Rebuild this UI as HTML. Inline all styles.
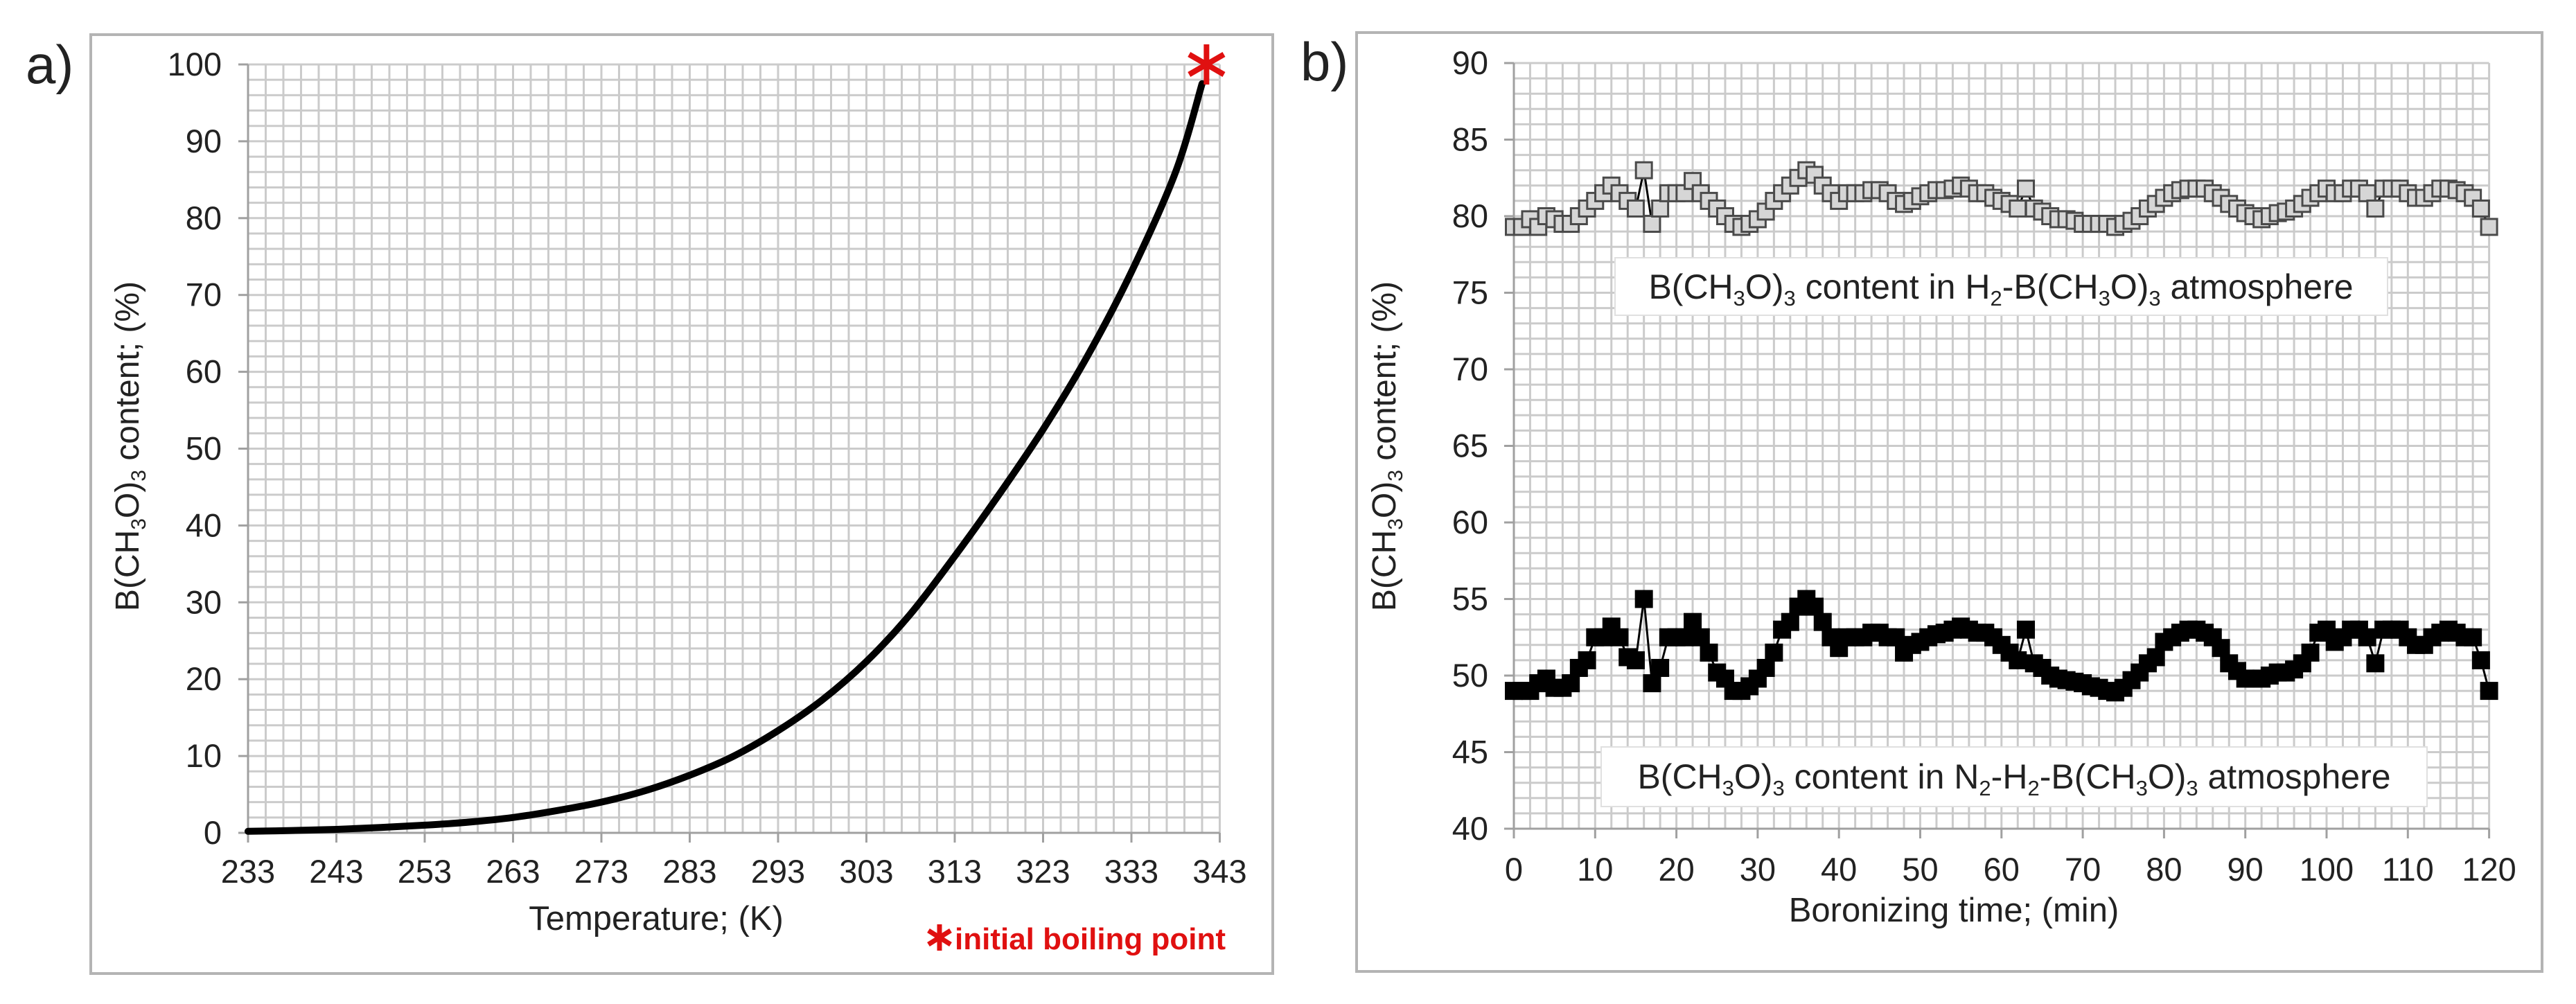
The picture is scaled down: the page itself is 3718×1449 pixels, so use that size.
<!DOCTYPE html>
<html><head><meta charset="utf-8"><style>
html,body{margin:0;padding:0;background:#fff;}
svg{display:block;font-family:"Liberation Sans Narrow","Liberation Sans",sans-serif;}
</style></head><body>
<svg id="fig" width="3718" height="1449" viewBox="0 0 3718 1449" xmlns="http://www.w3.org/2000/svg">
<rect x="0" y="0" width="3718" height="1449" fill="#fff"/>
<rect x="131" y="50" width="1706" height="1355" fill="#fff" stroke="#b4b4b4" stroke-width="4"/>
<rect x="1958" y="47" width="1711" height="1355" fill="#fff" stroke="#b4b4b4" stroke-width="4"/>
<text x="37" y="120" font-size="78" fill="#222">a)</text>
<text x="1877" y="116" font-size="78" fill="#222">b)</text>
<g id="ga"></g>
<g id="gb"></g>
<text x="200" y="644" font-size="48" fill="#222" text-anchor="middle" transform="rotate(-90 200 644)">B(CH<tspan font-size="30" dy="10">3</tspan><tspan dy="-10">O)</tspan><tspan font-size="30" dy="10">3</tspan><tspan dy="-10"> content; (%)</tspan></text>
<text x="947" y="1342" font-size="49" fill="#222" text-anchor="middle">Temperature; (K)</text>
<g>
<g stroke="#e01010" stroke-width="7">
<line x1="1356" y1="1334" x2="1356" y2="1372"/><line x1="1340" y1="1343" x2="1372" y2="1363"/><line x1="1340" y1="1363" x2="1372" y2="1343"/></g>
<text x="1378" y="1370" font-size="44" font-weight="bold" fill="#e01010">initial boiling point</text>
</g>
<text x="2014" y="644" font-size="48" fill="#222" text-anchor="middle" transform="rotate(-90 2014 644)">B(CH<tspan font-size="30" dy="10">3</tspan><tspan dy="-10">O)</tspan><tspan font-size="30" dy="10">3</tspan><tspan dy="-10"> content; (%)</tspan></text>
<text x="2820" y="1330" font-size="49" fill="#222" text-anchor="middle">Boronizing time; (min)</text>
</svg>
<script>
const tempK=[233,238,243,248,253,258,263,268,273,278,283,288,293,298,303,308,313,318,323,328,333,338,341];
const contentA=[0.2,0.3,0.45,0.7,1.0,1.4,2.0,2.9,4.0,5.5,7.5,10.0,13.3,17.3,22.3,28.5,36,44,52.5,62,73,86,97.5];
const boilT=[341.5];const boilV=[100];
const xTicksA=[233,243,253,263,273,283,293,303,313,323,333,343];
const yTicksA=[0,10,20,30,40,50,60,70,80,90,100];
const minutes=[];for(let i=0;i<=120;i++)minutes.push(i);
const seriesH2=[79.3,79.3,79.8,79.3,80,79.8,79.5,79.5,80,80.5,
81,81.5,82,81.5,81,80.5,83,79.5,80.5,81.5,
81.5,81.5,82.3,81.5,81,80.5,80,79.5,79.3,79.5,
79.8,80.3,81,81.5,82,82.5,83,82.7,82,81.5,
81,81.5,81.5,81.5,81.7,81.7,81.5,81,80.8,81,
81.3,81.5,81.7,81.7,81.8,82,81.8,81.5,81.5,81.2,
81,80.8,80.5,81.8,80.5,80.3,80,79.8,79.8,79.7,
79.5,79.5,79.5,79.5,79.3,79.5,79.7,80,80.5,80.8,
81.2,81.5,81.7,81.8,81.8,81.8,81.5,81.2,80.8,80.5,
80.2,80,79.8,80,80.2,80.3,80.5,80.8,81.2,81.5,
81.8,81.5,81.5,81.8,81.8,81.5,80.5,81.8,81.8,81.8,
81.5,81.2,81.2,81.5,81.8,81.8,81.7,81.5,81.2,80.5,79.3];
const seriesN2=[49,49,49,49.5,49.8,49.2,49.2,49.5,50.5,51,
52.5,52.5,53.2,52.5,51.2,51,55,49.5,50.5,52.5,
52.5,52.5,53.5,52.5,51.5,50.2,49.8,49,49,49.3,
49.8,50.5,51.5,53,53.5,54.5,55,54.5,53.5,52.5,
51.8,52.5,52.5,52.5,52.8,52.8,52.5,52.5,51.5,52,
52.2,52.5,52.7,52.8,53,53.2,53,52.8,52.8,52.5,
52,51.5,51,53,50.8,50.5,50,49.8,49.7,49.6,
49.5,49.3,49.2,49,48.9,49.2,49.7,50.2,50.8,51.2,
52.2,52.5,52.8,53,53,52.8,52.5,51.8,50.8,50.3,
49.8,49.8,49.8,50,50.2,50.2,50.4,50.8,51.5,52.8,
53,52.2,52.5,53,53,52.5,50.8,53,53,53,
52.5,52,52,52.5,52.8,53,52.8,52.5,52.5,51,49];
const xTicksB=[0,10,20,30,40,50,60,70,80,90,100,110,120];
const yTicksB=[40,45,50,55,60,65,70,75,80,85,90];

const NS="http://www.w3.org/2000/svg";
function mk(tag,attrs,parent){const e=document.createElementNS(NS,tag);for(const k in attrs)e.setAttribute(k,attrs[k]);parent.appendChild(e);return e;}

// Panel A
const ga=document.getElementById('ga');
const xa=t=>358+(t-233)*12.75;
const ya=v=>1202-v*11.09;
for(let t=233;t<=343;t+=2){const l=mk('line',{x1:xa(t),y1:ya(100),x2:xa(t),y2:ya(0),stroke:'#cbcbcb','stroke-width':3},ga);

}
for(let v=0;v<=100;v+=2){const l=mk('line',{x1:xa(233),y1:ya(v),x2:xa(343),y2:ya(v),stroke:'#cbcbcb','stroke-width':3},ga);

}
mk('line',{x1:xa(233),y1:ya(0),x2:xa(233),y2:ya(100),stroke:'#a0a0a0','stroke-width':3},ga);
mk('line',{x1:xa(233),y1:ya(0),x2:xa(343),y2:ya(0),stroke:'#a0a0a0','stroke-width':3},ga);
xTicksA.forEach(t=>{mk('line',{x1:xa(t),y1:ya(0),x2:xa(t),y2:ya(0)+14,stroke:'#a0a0a0','stroke-width':3},ga);
const tx=mk('text',{x:xa(t),y:1274,'font-size':47,'text-anchor':'middle',fill:'#222'},ga);tx.textContent=t;

});
yTicksA.forEach(v=>{mk('line',{x1:xa(233)-14,y1:ya(v),x2:xa(233),y2:ya(v),stroke:'#a0a0a0','stroke-width':3},ga);
const tx=mk('text',{x:320,y:ya(v)+16,'font-size':47,'text-anchor':'end',fill:'#222'},ga);tx.textContent=v;

});
// smooth path (Catmull-Rom)
const pts=tempK.map((t,i)=>[xa(t),ya(contentA[i])]);
let d='M'+pts[0][0]+','+pts[0][1];
for(let i=0;i<pts.length-1;i++){const p0=pts[Math.max(0,i-1)],p1=pts[i],p2=pts[i+1],p3=pts[Math.min(pts.length-1,i+2)];
d+=' C'+(p1[0]+(p2[0]-p0[0])/6)+','+(p1[1]+(p2[1]-p0[1])/6)+' '+(p2[0]-(p3[0]-p1[0])/6)+','+(p2[1]-(p3[1]-p1[1])/6)+' '+p2[0]+','+p2[1];}
const pa=mk('path',{d:d,fill:'none',stroke:'#000','stroke-width':10,'stroke-linejoin':'round','stroke-linecap':'round'},ga);


boilT.forEach((t,i)=>{const g=mk('g',{stroke:'#e01010','stroke-width':8},ga);


const cx=xa(t),cy=ya(boilV[i]),r=29;
for(let k=0;k<3;k++){const a=Math.PI/2+k*Math.PI/3;mk('line',{x1:cx-r*Math.cos(a),y1:cy-r*Math.sin(a),x2:cx+r*Math.cos(a),y2:cy+r*Math.sin(a)},g);}});

// Panel B
const gb=document.getElementById('gb');
const xb=m=>2185+m*11.73;
const yb=v=>1196-(v-40)*22.1;
for(let m=0;m<=120;m+=2){const l=mk('line',{x1:xb(m),y1:yb(90),x2:xb(m),y2:yb(40),stroke:'#cbcbcb','stroke-width':3},gb);

}
for(let v=40;v<=90;v+=1){const l=mk('line',{x1:xb(0),y1:yb(v),x2:xb(120),y2:yb(v),stroke:'#cbcbcb','stroke-width':3},gb);

}
mk('line',{x1:xb(0),y1:yb(40),x2:xb(0),y2:yb(90),stroke:'#a0a0a0','stroke-width':3},gb);
mk('line',{x1:xb(0),y1:yb(40),x2:xb(120),y2:yb(40),stroke:'#a0a0a0','stroke-width':3},gb);
xTicksB.forEach(t=>{mk('line',{x1:xb(t),y1:yb(40),x2:xb(t),y2:yb(40)+14,stroke:'#a0a0a0','stroke-width':3},gb);
const tx=mk('text',{x:xb(t),y:1271,'font-size':47,'text-anchor':'middle',fill:'#222'},gb);tx.textContent=t;

});
yTicksB.forEach(v=>{mk('line',{x1:xb(0)-14,y1:yb(v),x2:xb(0),y2:yb(v),stroke:'#a0a0a0','stroke-width':3},gb);
const tx=mk('text',{x:2148,y:yb(v)+16,'font-size':47,'text-anchor':'end',fill:'#222'},gb);tx.textContent=v;

});
function drawSeries(vals,fill,stroke,name){
const g=mk('g',{},gb);


mk('polyline',{points:minutes.map((m,i)=>xb(m)+','+yb(vals[i])).join(' '),fill:'none',stroke:'#000','stroke-width':3},g);
minutes.forEach((m,i)=>{const r=mk('rect',{x:xb(m)-11.5,y:yb(vals[i])-11.5,width:23,height:23,fill:fill,stroke:stroke,'stroke-width':3},g);

});}
drawSeries(seriesH2,'#d6d6d6','#4a4a4a','series-h2');
drawSeries(seriesN2,'#000','#000','series-n2');
</script>
<svg style="position:absolute;left:0;top:0" width="3718" height="1449" xmlns="http://www.w3.org/2000/svg" font-family="'Liberation Sans Narrow','Liberation Sans',sans-serif">
<g>
<rect x="2331" y="372" width="1115" height="83" fill="#fff" stroke="#e0e0e0" stroke-width="2"/>
<text x="2888" y="431" font-size="50" fill="#222" text-anchor="middle">B(CH<tspan font-size="31" dy="10">3</tspan><tspan dy="-10">O)</tspan><tspan font-size="31" dy="10">3</tspan><tspan dy="-10"> content in H</tspan><tspan font-size="31" dy="10">2</tspan><tspan dy="-10">-B(CH</tspan><tspan font-size="31" dy="10">3</tspan><tspan dy="-10">O)</tspan><tspan font-size="31" dy="10">3</tspan><tspan dy="-10"> atmosphere</tspan></text>
</g>
<g>
<rect x="2311" y="1078" width="1192" height="86" fill="#fff" stroke="#e0e0e0" stroke-width="2"/>
<text x="2907" y="1138" font-size="50" fill="#222" text-anchor="middle">B(CH<tspan font-size="31" dy="10">3</tspan><tspan dy="-10">O)</tspan><tspan font-size="31" dy="10">3</tspan><tspan dy="-10"> content in N</tspan><tspan font-size="31" dy="10">2</tspan><tspan dy="-10">-H</tspan><tspan font-size="31" dy="10">2</tspan><tspan dy="-10">-B(CH</tspan><tspan font-size="31" dy="10">3</tspan><tspan dy="-10">O)</tspan><tspan font-size="31" dy="10">3</tspan><tspan dy="-10"> atmosphere</tspan></text>
</g>
</svg>
</body></html>
